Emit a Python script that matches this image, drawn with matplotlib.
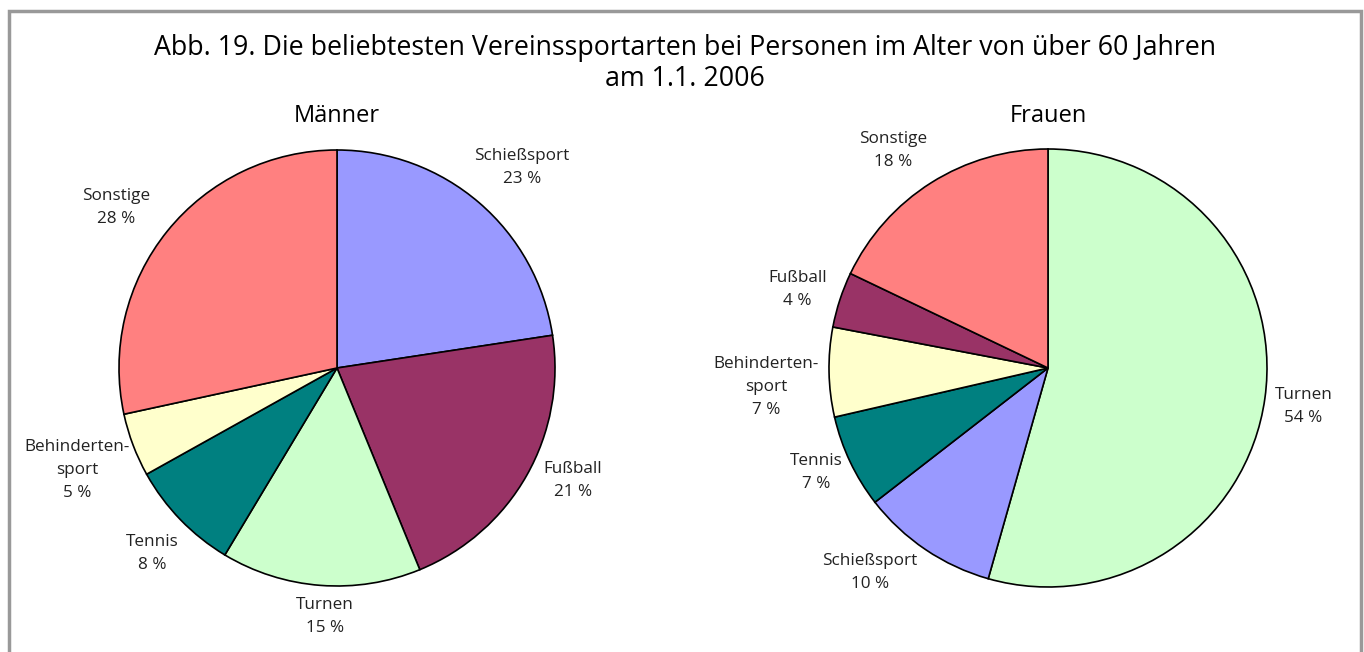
import matplotlib.pyplot as plt
from matplotlib.patches import Rectangle
import numpy as np

plt.rcParams['font.family'] = ['Open Sans', 'DejaVu Sans']

# data (shares in %; labels show them rounded)
maenner_labels = ['Schießsport', 'Fußball', 'Turnen', 'Tennis', 'Behinderten-\nsport', 'Sonstige']
maenner_values = [22.6, 21.2, 14.8, 8.3, 4.7, 28.4]
frauen_labels = ['Turnen', 'Schießsport', 'Tennis', 'Behinderten-\nsport', 'Fußball', 'Sonstige']
frauen_values = [54.4, 10.1, 6.9, 6.6, 4.1, 17.9]

colors = {'Schießsport': '#9999FF', 'Fußball': '#993366', 'Turnen': '#CCFFCC',
          'Tennis': '#008080', 'Behinderten-\nsport': '#FFFFCC', 'Sonstige': '#FF8080'}

# label placement per slice: distance (radii) and angle nudge (deg)
maenner_dist = [1.25, 1.2, 1.14, 1.2, 1.28, 1.25]
maenner_shift = [-2, 4, 1.5, 1, 0.8, 2.9]
frauen_dist = [1.18, 1.24, 1.16, 1.29, 1.2, 1.22]
frauen_shift = [-0.6, -7, -1.2, 2.7, 0.7, 3.3]

W, H = 1364, 652
fig = plt.figure(figsize=(W/100, H/100), dpi=100)

# grey frame
fig.patches.append(Rectangle((8.5/W, -0.05), (1361-8.5)/W, (H-10.5)/H + 0.05,
                             transform=fig.transFigure, fill=False,
                             edgecolor='#999999', linewidth=2.5))

fig.text(685/W, 1-48/H, 'Abb. 19. Die beliebtesten Vereinssportarten bei Personen im Alter von über 60 Jahren',
         ha='center', va='center', fontsize=19.3)
fig.text(685/W, 1-79/H, 'am 1.1. 2006', ha='center', va='center', fontsize=19.3)


def draw_pie(cx, cy, R, title, labels, values, dists, shifts):
    half = 260
    ax = fig.add_axes([(cx-half)/W, 1-(cy+half)/H, 2*half/W, 2*half/H])
    lim = half / R
    wedges, _ = ax.pie(values, colors=[colors[l] for l in labels], startangle=90,
                       counterclock=False, radius=1,
                       wedgeprops=dict(edgecolor='black', linewidth=1.2))
    for w, lab, v, d, s in zip(wedges, labels, values, dists, shifts):
        ang = np.deg2rad((w.theta1 + w.theta2) / 2 + s)
        ax.text(d*np.cos(ang), d*np.sin(ang), f'{lab}\n{round(v)} %', ha='center', va='center',
                fontsize=12.3, color='#222222', linespacing=1.58)
    ax.set_xlim(-lim, lim)
    ax.set_ylim(-lim, lim)
    ax.set_aspect('equal')
    ax.axis('off')
    fig.text(cx/W, 1-116/H, title, ha='center', va='center', fontsize=17)


draw_pie(337, 368, 218, 'Männer', maenner_labels, maenner_values, maenner_dist, maenner_shift)
draw_pie(1048, 368, 219, 'Frauen', frauen_labels, frauen_values, frauen_dist, frauen_shift)

fig.savefig('out.png', dpi=100)
